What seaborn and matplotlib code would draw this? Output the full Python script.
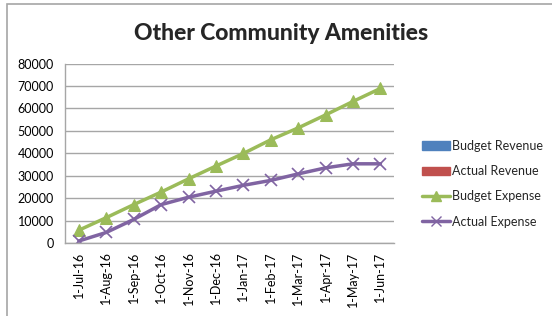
import matplotlib
matplotlib.use("Agg")
import matplotlib.pyplot as plt
import seaborn as sns
import pandas as pd
from matplotlib.patches import Patch, Rectangle
from matplotlib.lines import Line2D

months = ['1-Jul-16', '1-Aug-16', '1-Sep-16', '1-Oct-16', '1-Nov-16', '1-Dec-16',
          '1-Jan-17', '1-Feb-17', '1-Mar-17', '1-Apr-17', '1-May-17', '1-Jun-17']
budget_expense = [5700, 11300, 17100, 22700, 28600, 34300, 39900, 46000, 51300, 57100, 63100, 68900]
actual_expense = [900, 4700, 10500, 17100, 20400, 23100, 25700, 27900, 30800, 33500, 35300, 35300]

sns.set_theme(style="white")
plt.rcParams['font.family'] = ['Lato', 'DejaVu Sans']

df = pd.DataFrame({'month': months, 'Budget Expense': budget_expense, 'Actual Expense': actual_expense})

fig = plt.figure(figsize=(5.52, 3.16), dpi=100)
ax = fig.add_axes([0.118, 0.231, 0.596, 0.568])

green = '#9BBB59'
purple = '#8064A2'
sns.lineplot(data=df, x='month', y='Budget Expense', ax=ax, color=green, lw=2.5,
             marker='^', markersize=8, markeredgecolor=green, sort=False)
sns.lineplot(data=df, x='month', y='Actual Expense', ax=ax, color=purple, lw=2.5,
             marker='x', markersize=8, markeredgewidth=1.2, markeredgecolor=purple, sort=False)

ax.set_xlim(-0.5, len(months) - 0.5)
ax.set_ylim(0, 80000)
ax.set_yticks(range(0, 80001, 10000))
ax.yaxis.grid(True, color='#A6A6A6', lw=1)
ax.set_axisbelow(True)
ax.set_xlabel('')
ax.set_ylabel('')
for s in ['top', 'right']:
    ax.spines[s].set_visible(False)
for s in ['left', 'bottom']:
    ax.spines[s].set_color('#A6A6A6')
    ax.spines[s].set_linewidth(1)
ax.tick_params(axis='x', rotation=90, labelsize=9, colors='#000000', length=0, pad=6)
ax.tick_params(axis='y', labelsize=9, colors='#000000', length=0, pad=8)

fig.text(0.51, 0.893, 'Other Community Amenities', ha='center', va='center',
         fontsize=16.5, fontweight='black')

handles = [Patch(color='#4F81BD', label='Budget Revenue'),
           Patch(color='#C0504D', label='Actual Revenue'),
           Line2D([], [], color=green, lw=2.5, marker='^', markersize=7, label='Budget Expense'),
           Line2D([], [], color=purple, lw=2.5, marker='x', markersize=7, label='Actual Expense')]
fig.legend(handles=handles, loc='center left', bbox_to_anchor=(0.745, 0.418), frameon=False,
           fontsize=9, handlelength=2.2, handletextpad=0.15, labelspacing=1.05)

fig.patches.append(Rectangle((7 / 552, -0.1), 1.2, 1 - 4 / 316 + 0.1, transform=fig.transFigure,
                             fill=False, edgecolor='#A6A6A6', lw=1.2))

fig.savefig('out.png', dpi=100)
